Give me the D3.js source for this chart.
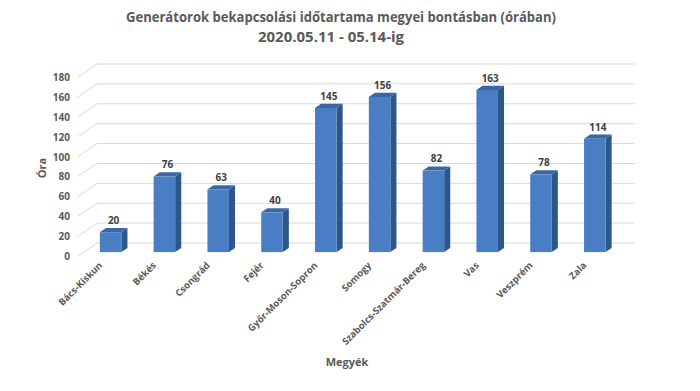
<!DOCTYPE html>
<html>
<head>
<meta charset="utf-8">
<script src="https://cdn.jsdelivr.net/npm/d3@7"></script>
<style>
  body { margin: 0; background: #fff; }
  text { font-family: "Open Sans", "DejaVu Sans", sans-serif; }
</style>
</head>
<body>
<svg id="chart"></svg>
<script>
// adatok
const megyek = ['Bács-Kiskun', 'Békés', 'Csongrád', 'Fejér', 'Győr-Moson-Sopron', 'Somogy',
  'Szabolcs-Szatmár-Bereg', 'Vas', 'Veszprém', 'Zala'];
const orak = [20, 76, 63, 40, 145, 156, 82, 163, 78, 114];
const yTicks = [0, 20, 40, 60, 80, 100, 120, 140, 160, 180];

const width = 700;
const height = 391;

const svg = d3.select('#chart')
  .attr('width', width)
  .attr('height', height);

// 3D melyseg (elso sik -> hatso fal)
const depthX = 19;
const depthY = 13;
const proj = (x, y, d) => [x + d * depthX, y - d * depthY];

const x = d3.scaleBand()
  .domain(megyek)
  .range([78, 616])
  .padding(0);

const y = d3.scaleLinear()
  .domain([0, 180])
  .range([256, 77]);

// GRID
const grid = svg.append('g')
  .attr('fill', 'none')
  .attr('stroke', '#d9d9d9')
  .attr('stroke-width', 1);

grid.selectAll('path')
  .data(yTicks)
  .join('path')
  .attr('d', v => {
    const [bx, by] = proj(78, y(v), 1);
    return `M78,${y(v)}L${bx},${by}L635,${by}`;
  });

// Y tengely feliratok
svg.append('g')
  .selectAll('text')
  .data(yTicks)
  .join('text')
  .attr('x', 70)
  .attr('y', v => y(v) + 4)
  .attr('text-anchor', 'end')
  .attr('font-size', 10)
  .attr('font-weight', 'bold')
  .attr('fill', '#595959')
  .text(v => v);

// OSZLOPOK
const dFront = 0.3;
const dBack = 0.62;
const barW = x.bandwidth() * 0.4;

const bars = svg.append('g')
  .selectAll('g')
  .data(megyek.map((m, i) => ({ m, v: orak[i] })))
  .join('g');

const geom = d => {
  const cx = x(d.m) + x.bandwidth() / 2;
  const [x0, yTop] = proj(cx - barW / 2, y(d.v), dFront);
  const [, yBot] = proj(0, y(0), dFront);
  const x1 = x0 + barW;
  const ox = (dBack - dFront) * depthX;
  const oy = (dBack - dFront) * depthY;
  return { x0, x1, yTop, yBot, ox, oy };
};

bars.append('polygon')
  .attr('fill', '#2d5689')
  .attr('points', d => {
    const g = geom(d);
    return [[g.x1, g.yTop], [g.x1 + g.ox, g.yTop - g.oy], [g.x1 + g.ox, g.yBot - g.oy], [g.x1, g.yBot]].join(' ');
  });

bars.append('polygon')
  .attr('fill', '#3b66a6')
  .attr('points', d => {
    const g = geom(d);
    return [[g.x0, g.yTop], [g.x0 + g.ox, g.yTop - g.oy], [g.x1 + g.ox, g.yTop - g.oy], [g.x1, g.yTop]].join(' ');
  });

bars.append('rect')
  .attr('fill', '#4a7ec4')
  .attr('x', d => geom(d).x0)
  .attr('y', d => geom(d).yTop)
  .attr('width', barW)
  .attr('height', d => geom(d).yBot - geom(d).yTop);

// ertek feliratok
bars.append('text')
  .attr('x', d => { const g = geom(d); return (g.x0 + g.x1 + g.ox) / 2; })
  .attr('y', d => { const g = geom(d); return g.yTop - g.oy - 4; })
  .attr('text-anchor', 'middle')
  .attr('font-size', 10)
  .attr('font-weight', 'bold')
  .attr('fill', '#404040')
  .text(d => d.v);

// X tengely feliratok
svg.append('g')
  .selectAll('text')
  .data(megyek)
  .join('text')
  .attr('text-anchor', 'end')
  .attr('font-size', 9.5)
  .attr('font-weight', 'bold')
  .attr('fill', '#595959')
  .attr('transform', d => `translate(${x(d) + x.bandwidth() / 2 - 2},${266}) rotate(-45)`)
  .text(d => d);

// tengely cimek
svg.append('text')
  .attr('x', 347)
  .attr('y', 366)
  .attr('text-anchor', 'middle')
  .attr('font-size', 11)
  .attr('font-weight', 'bold')
  .attr('fill', '#595959')
  .text('Megyék');

svg.append('text')
  .attr('transform', 'translate(46,168) rotate(-90)')
  .attr('text-anchor', 'middle')
  .attr('font-size', 11)
  .attr('font-weight', 'bold')
  .attr('fill', '#595959')
  .text('Óra');

// CIM
svg.append('text')
  .attr('x', 341)
  .attr('y', 22)
  .attr('text-anchor', 'middle')
  .attr('font-size', 14)
  .attr('font-weight', 'bold')
  .attr('fill', '#595959')
  .attr('textLength', 430)
  .attr('lengthAdjust', 'spacingAndGlyphs')
  .text('Generátorok bekapcsolási időtartama megyei bontásban (órában)');

svg.append('text')
  .attr('x', 331)
  .attr('y', 42)
  .attr('text-anchor', 'middle')
  .attr('font-size', 14)
  .attr('font-weight', 'bold')
  .attr('fill', '#595959')
  .attr('textLength', 146)
  .attr('lengthAdjust', 'spacingAndGlyphs')
  .text('2020.05.11 - 05.14-ig');
</script>
</body>
</html>
